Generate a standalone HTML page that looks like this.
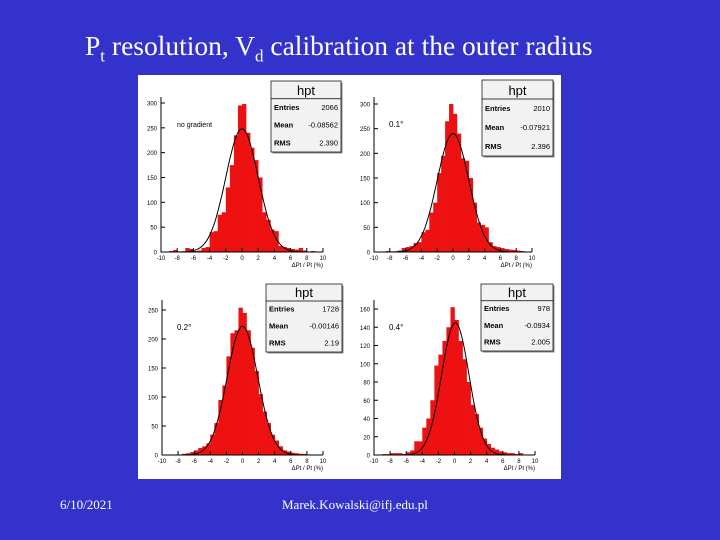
<!DOCTYPE html>
<html><head><meta charset="utf-8"><style>
body{margin:0;width:720px;height:540px;background:#3333cc;overflow:hidden;position:relative;font-family:"Liberation Serif",serif;color:#fff}
#title{position:absolute;left:85px;top:30px;font-size:27.5px;white-space:nowrap;line-height:32px}
#title sub{font-size:17px}
.foot{position:absolute;top:497px;font-size:13px}
svg{position:absolute;left:0;top:0}
</style></head><body>
<div id="title">P<sub>t</sub> resolution, V<sub>d</sub> calibration at the outer radius</div>
<div class="foot" style="left:60px">6/10/2021</div>
<div class="foot" style="left:282px">Marek.Kowalski@ifj.edu.pl</div>
<svg id="s" width="720" height="540">
<rect x="138" y="75" width="423" height="404" fill="#fff"/>
</svg>
<script>
const binEdges=[-10,10];
const vals1=[0,0,2,4,0,0,8,6,2,3,8,10,40,42,75,80,130,175,235,295,298,240,210,185,150,80,65,45,42,12,10,8,6,5,8,3,0,2,0,0];
const vals2=[0,0,1,2,1,0,3,8,10,12,18,20,40,45,80,100,160,195,265,300,280,240,190,185,150,100,60,55,50,20,12,10,8,6,5,4,3,2,0,0];
const vals3=[0,0,0,1,0,2,3,5,8,12,15,20,35,55,95,120,170,210,215,254,245,215,185,145,105,75,55,35,25,15,8,6,4,3,2,2,1,0,0,0];
const vals4=[0,0,1,1,2,2,2,1,3,5,15,15,30,40,60,98,110,125,140,162,148,125,105,80,55,45,30,18,12,8,6,4,3,2,2,1,2,0,0,0];
const fitAmp=[248,240,222,145];
const fitMean=[0,0,0,0.1];
const fitSigma=[2.0,2.0,1.9,1.7];
const yTicks1=[0,50,100,150,200,250,300];
const yTicks2=[0,50,100,150,200,250,300];
const yTicks3=[0,50,100,150,200,250];
const yTicks4=[0,20,40,60,80,100,120,140,160];
const xTicks=[-10,-8,-6,-4,-2,0,2,4,6,8,10];
const labels=["no gradient","0.1°","0.2°","0.4°"];
const entries=["2066","2010","1728","978"];
const means=["-0.08562","-0.07921","-0.00146","-0.0934"];
const rmss=["2.390","2.396","2.19","2.005"];
const panels=[
 {v:vals1,yt:yTicks1,ymax:300,x0:161,x1:323,yb:252,yt0:103,ft:97,box:[271,81,341,152]},
 {v:vals2,yt:yTicks2,ymax:300,x0:374,x1:532,yb:252,yt0:104,ft:97,box:[482,80,553,156]},
 {v:vals3,yt:yTicks3,ymax:250,x0:162,x1:323,yb:455,yt0:310,ft:300,box:[266,284,342,352]},
 {v:vals4,yt:yTicks4,ymax:160,x0:374,x1:535,yb:455,yt0:309,ft:300,box:[481,284,553,351]}];
const s=document.getElementById('s');const NS='http://www.w3.org/2000/svg';
function mk(t,a,p,txt){const e=document.createElementNS(NS,t);for(const k in a)e.setAttribute(k,a[k]);if(txt!==undefined)e.textContent=txt;(p||s).appendChild(e);return e;}
panels.forEach((P,i)=>{
 const g=mk('g',{});
 
 
 const X=x=>P.x0+(x-binEdges[0])/(binEdges[1]-binEdges[0])*(P.x1-P.x0);
 const Y=y=>P.yb-y/P.ymax*(P.yb-P.yt0);
 const n=P.v.length,w=(binEdges[1]-binEdges[0])/n;
 P.v.forEach((v,j)=>{if(v<=0)return;const r=mk('rect',{x:X(binEdges[0]+j*w),y:Y(v),width:X(binEdges[0]+(j+1)*w)-X(binEdges[0]+j*w)+0.3,height:P.yb-Y(v),fill:'#ee1111'},g);
  });
 let d='';for(let k=0;k<=200;k++){const x=-10+k*0.1;const y=fitAmp[i]*Math.exp(-0.5*Math.pow((x-fitMean[i])/fitSigma[i],2));d+=(k?'L':'M')+X(x).toFixed(1)+','+Y(y).toFixed(1);}
 const c=mk('path',{d:d,fill:'none',stroke:'#000','stroke-width':1},g);
 
 mk('path',{d:`M${P.x0},${P.ft}V${P.yb}H${P.x1}`,fill:'none',stroke:'#000','stroke-width':1},g);
 P.yt.forEach(t=>{mk('line',{x1:P.x0,x2:P.x0+4,y1:Y(t),y2:Y(t),stroke:'#000'},g);
  const l=mk('text',{x:P.x0-4,y:Y(t)+2.5,'font-size':6,'text-anchor':'end','font-family':'Liberation Sans,sans-serif'},g,t);
  });
 xTicks.forEach(t=>{mk('line',{x1:X(t),x2:X(t),y1:P.yb,y2:P.yb-4,stroke:'#000'},g);
  const l=mk('text',{x:X(t),y:P.yb+8,'font-size':6,'text-anchor':'middle','font-family':'Liberation Sans,sans-serif'},g,t);
  });
 const xt=mk('text',{x:P.x1,y:P.yb+15,'font-size':6,'text-anchor':'end','font-family':'Liberation Sans,sans-serif'},g,'ΔPt / Pt (%)');
 
 const lb=mk('text',{x:i==0?P.x0+16:P.x0+15,y:P.ft+30,'font-size':i==0?7:8,'font-family':'Liberation Sans,sans-serif'},g,labels[i]);
 
 const [bx0,by0,bx1,by1]=P.box,bw=bx1-bx0,bh=by1-by0,hh=bh*0.25;
 const sb=mk('g',{},g);
 mk('rect',{x:bx0+1.5,y:by0+1.5,width:bw,height:bh,fill:'#888'},sb);
 mk('rect',{x:bx0,y:by0,width:bw,height:bh,fill:'#f2f2f2',stroke:'#000','stroke-width':0.7},sb);
 mk('line',{x1:bx0,x2:bx1,y1:by0+hh,y2:by0+hh,stroke:'#000','stroke-width':0.7},sb);
 mk('text',{x:(bx0+bx1)/2,y:by0+hh-4,'font-size':13,'text-anchor':'middle','font-family':'Liberation Sans,sans-serif'},sb,'hpt');
 const rows=[['Entries',entries[i]],['Mean',means[i]],['RMS',rmss[i]]];
 rows.forEach((r,k)=>{const yy=by0+hh+(k+0.62)*(bh-hh)/3;
  mk('text',{x:bx0+3,y:yy,'font-size':7.5,'font-weight':'bold','font-family':'Liberation Sans,sans-serif'},sb,r[0]);
  mk('text',{x:bx1-3,y:yy,'font-size':7.5,'text-anchor':'end','font-family':'Liberation Sans,sans-serif'},sb,r[1]);});
});
</script>
</body></html>
